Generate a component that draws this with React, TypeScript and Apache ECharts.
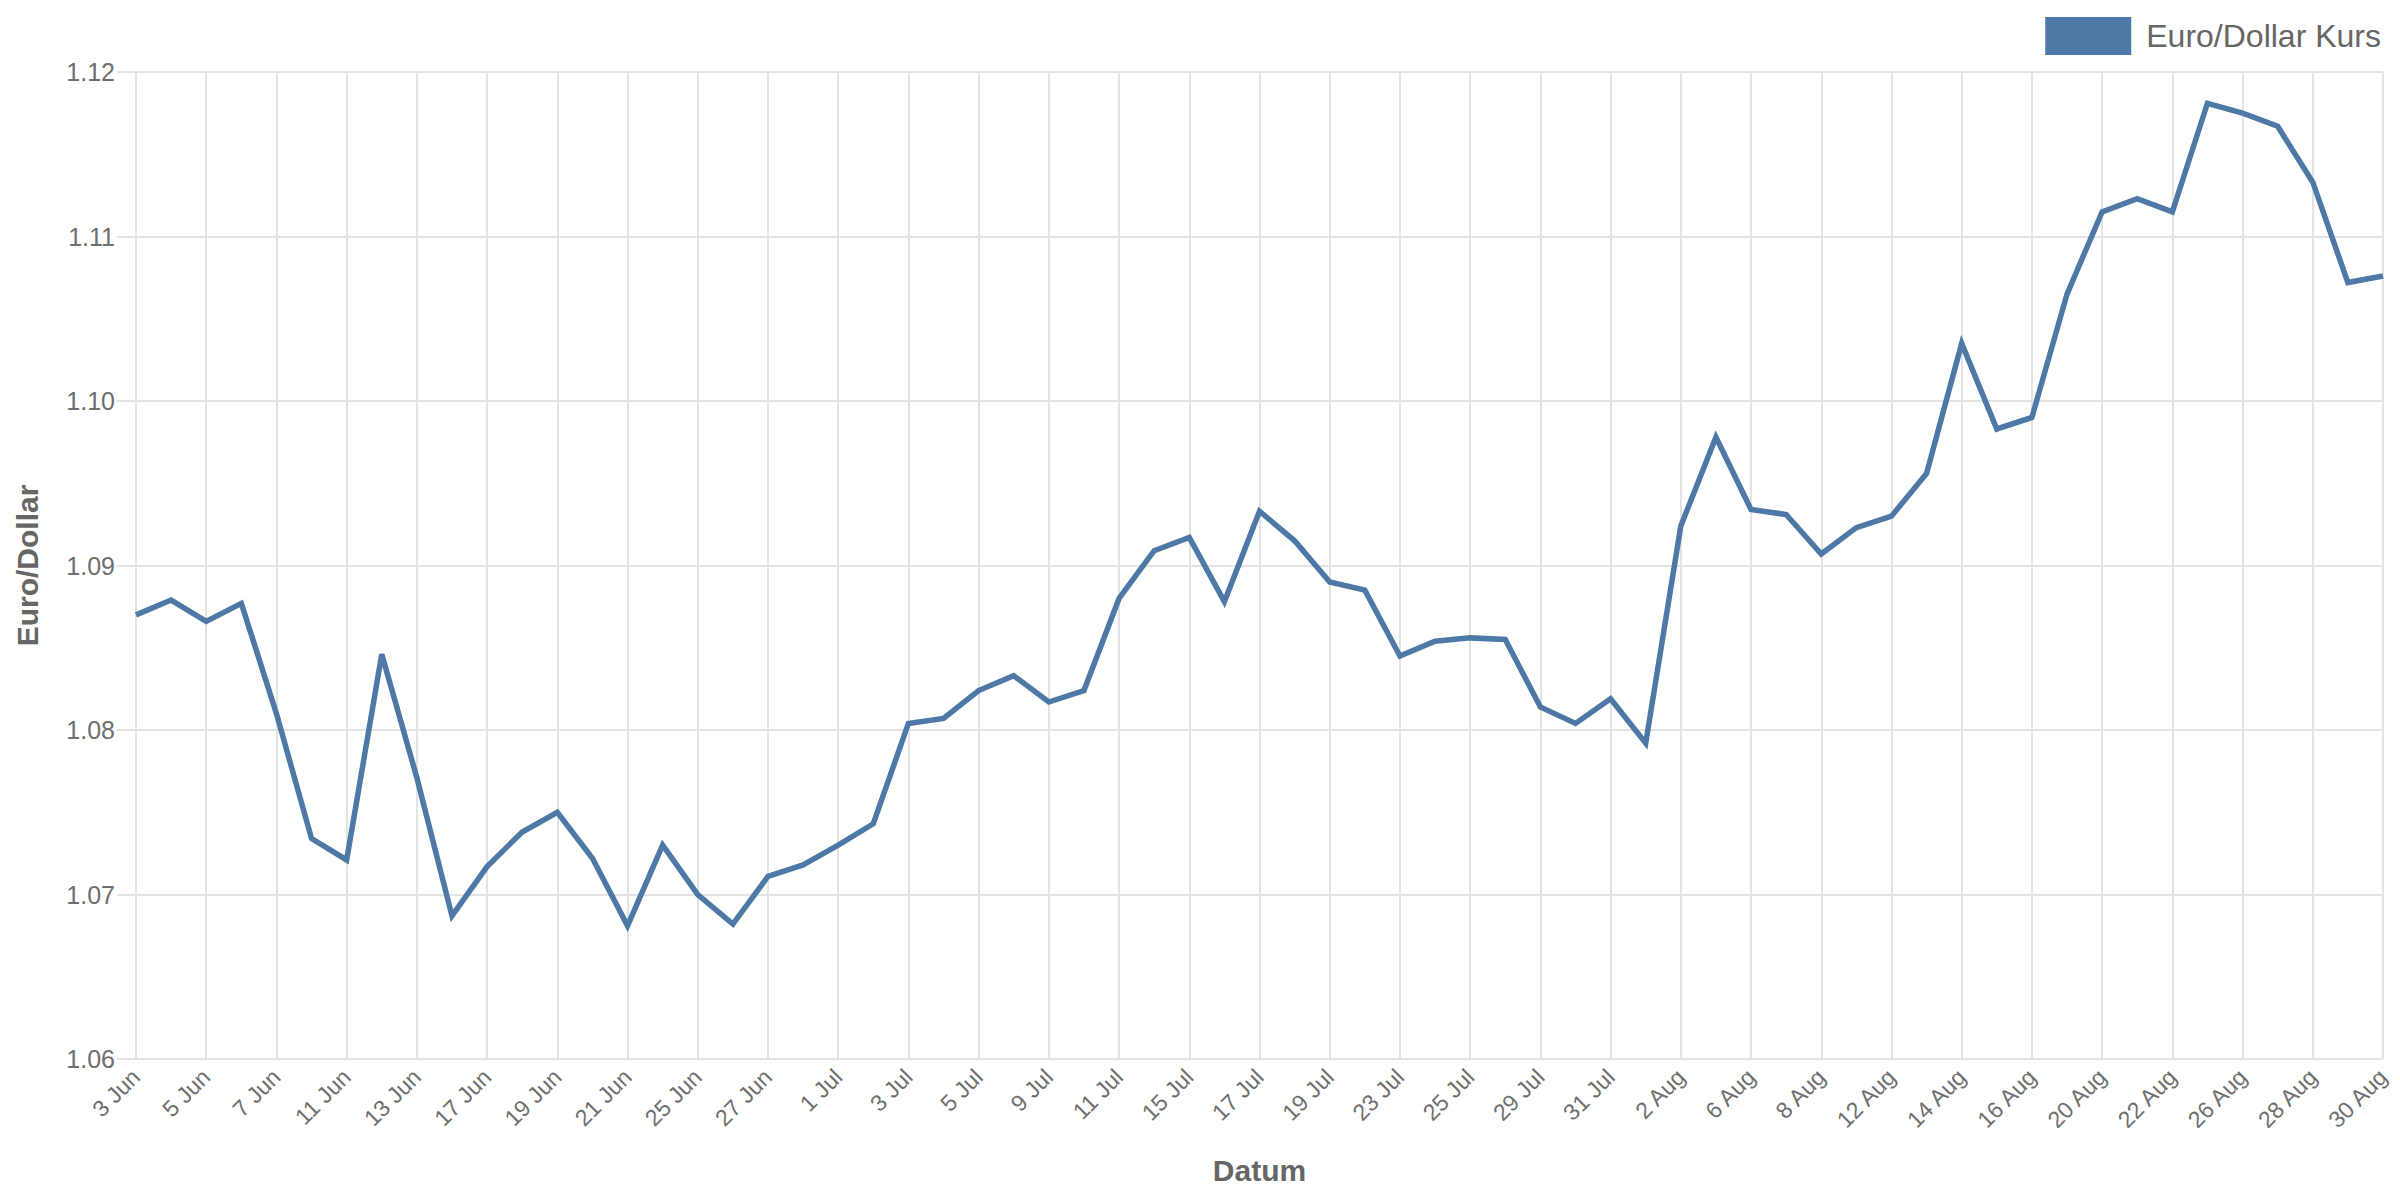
import React, { useEffect, useRef } from "react";
import * as echarts from "echarts";

const dates: string[] = [
  "3 Jun", "4 Jun", "5 Jun", "6 Jun", "7 Jun", "10 Jun", "11 Jun", "12 Jun", "13 Jun", "14 Jun",
  "17 Jun", "18 Jun", "19 Jun", "20 Jun", "21 Jun", "24 Jun", "25 Jun", "26 Jun", "27 Jun", "28 Jun",
  "1 Jul", "2 Jul", "3 Jul", "4 Jul", "5 Jul", "8 Jul", "9 Jul", "10 Jul", "11 Jul", "12 Jul",
  "15 Jul", "16 Jul", "17 Jul", "18 Jul", "19 Jul", "22 Jul", "23 Jul", "24 Jul", "25 Jul", "26 Jul",
  "29 Jul", "30 Jul", "31 Jul", "1 Aug", "2 Aug", "5 Aug", "6 Aug", "7 Aug", "8 Aug", "9 Aug",
  "12 Aug", "13 Aug", "14 Aug", "15 Aug", "16 Aug", "19 Aug", "20 Aug", "21 Aug", "22 Aug", "23 Aug",
  "26 Aug", "27 Aug", "28 Aug", "29 Aug", "30 Aug",
];

const kurs: number[] = [
  1.087, 1.0879, 1.0866, 1.0877, 1.081, 1.0734, 1.0721, 1.0846, 1.0771, 1.0687,
  1.0717, 1.0738, 1.075, 1.0722, 1.0681, 1.073, 1.07, 1.0682, 1.0711, 1.0718,
  1.073, 1.0743, 1.0804, 1.0807, 1.0824, 1.0833, 1.0817, 1.0824, 1.088, 1.0909,
  1.0917, 1.0878, 1.0933, 1.0915, 1.089, 1.0885, 1.0845, 1.0854, 1.0856, 1.0855,
  1.0814, 1.0804, 1.0819, 1.0792, 1.0924, 1.0978, 1.0934, 1.0931, 1.0907, 1.0923,
  1.093, 1.0956, 1.1035, 1.0983, 1.099, 1.1065, 1.1115, 1.1123, 1.1115, 1.1181,
  1.1175, 1.1167, 1.1133, 1.1072, 1.1076,
];

const seriesName = "Euro/Dollar Kurs";
const xAxisName = "Datum";
const yAxisName = "Euro/Dollar";
const yMin = 1.06;
const yMax = 1.12;
const yStep = 0.01;

const FONT = "Liberation Sans, Arial, sans-serif";
const LINE_COLOR = "#4e79a7";
const GRID_COLOR = "#e3e3e3";
const TEXT_COLOR = "#666666";

export default function App() {
  const ref = useRef<HTMLDivElement>(null);

  useEffect(() => {
    if (!ref.current) return;
    const chart = echarts.init(ref.current, undefined, { renderer: "svg" });
    chart.setOption({
      animation: false,
      backgroundColor: "#ffffff",
      textStyle: { fontFamily: FONT },
      legend: {
        show: true,
        right: 14,
        top: 12,
        icon: "rect",
        itemWidth: 86,
        itemHeight: 38,
        textStyle: {
          fontFamily: FONT,
          fontSize: 32,
          color: TEXT_COLOR,
          padding: [0, 0, 0, 10],
        },
        data: [seriesName],
      },
      grid: {
        left: 136,
        right: 17,
        top: 72,
        bottom: 141,
        containLabel: false,
      },
      xAxis: {
        type: "category",
        data: dates,
        boundaryGap: false,
        name: xAxisName,
        nameLocation: "middle",
        nameGap: 96,
        nameTextStyle: {
          fontFamily: FONT,
          fontSize: 30,
          fontWeight: "bold",
          color: TEXT_COLOR,
        },
        axisLine: { show: false },
        axisTick: { show: false },
        axisLabel: {
          interval: 1,
          rotate: 45,
          margin: 14,
          fontFamily: FONT,
          fontSize: 23,
          color: "#6e6e6e",
        },
        splitLine: {
          show: true,
          interval: 1,
          lineStyle: { color: GRID_COLOR, width: 2 },
        },
      },
      yAxis: {
        type: "value",
        min: yMin,
        max: yMax,
        interval: yStep,
        name: yAxisName,
        nameLocation: "middle",
        nameGap: 94,
        nameTextStyle: {
          fontFamily: FONT,
          fontSize: 30,
          fontWeight: "bold",
          color: TEXT_COLOR,
        },
        axisLine: { show: false },
        axisTick: {
          show: true,
          length: 19,
          lineStyle: { color: GRID_COLOR, width: 2 },
        },
        axisLabel: {
          margin: 21,
          fontFamily: FONT,
          fontSize: 25,
          color: "#6e6e6e",
          formatter: (v: number) => v.toFixed(2),
        },
        splitLine: {
          show: true,
          lineStyle: { color: GRID_COLOR, width: 2 },
        },
      },
      series: [
        {
          name: seriesName,
          type: "line",
          data: kurs,
          symbol: "none",
          showSymbol: false,
          color: LINE_COLOR,
          lineStyle: { color: LINE_COLOR, width: 5.5, join: "miter" },
          itemStyle: { color: LINE_COLOR },
        },
      ],
    });
    return () => chart.dispose();
  }, []);

  return (
    <div
      ref={ref}
      style={{ position: "fixed", left: 0, top: 0, width: 2400, height: 1200 }}
    />
  );
}
